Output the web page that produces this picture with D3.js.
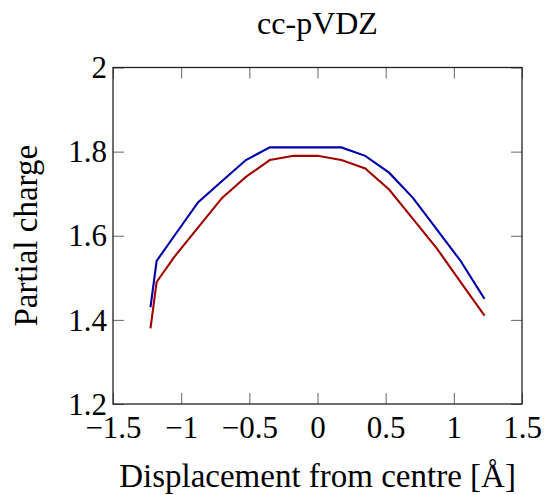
<!DOCTYPE html>
<html>
<head>
<meta charset="utf-8">
<script src="https://cdn.jsdelivr.net/npm/d3@7"></script>
<style>
  html, body { margin: 0; padding: 0; background: #fff; }
  svg { display: block; }
</style>
</head>
<body>
<svg id="chart" width="544" height="495"></svg>
<script>
// Displacement of the atom from the centre (Å)
const displacement = [-1.225, -1.18, -1.05, -0.875, -0.7, -0.525, -0.35, -0.175, 0,
                      0.175, 0.35, 0.525, 0.7, 0.875, 1.05, 1.225];
// Partial charge, two methods
const chargeBlue = [1.43, 1.54, 1.60, 1.68, 1.73, 1.78, 1.81, 1.81, 1.81,
                    1.81, 1.79, 1.75, 1.69, 1.615, 1.54, 1.45];
const chargeRed  = [1.38, 1.49, 1.55, 1.62, 1.69, 1.74, 1.78, 1.79, 1.79,
                    1.78, 1.76, 1.71, 1.64, 1.57, 1.49, 1.41];
const xTicks = [-1.5, -1, -0.5, 0, 0.5, 1, 1.5];
const yTicks = [1.2, 1.4, 1.6, 1.8, 2];

const serif = "'Liberation Serif', 'Times New Roman', serif";
const svg = d3.select("#chart");
const plotLeft = 113, plotRight = 522, plotTop = 67.5, plotBottom = 404;
const x = d3.scaleLinear().domain([-1.5, 1.5]).range([plotLeft, plotRight]);
const y = d3.scaleLinear().domain([1.2, 2]).range([plotBottom, plotTop]);
const fmt = d3.format("~g");
const tickLen = 11;

// inward ticks on all four sides
const gB = svg.append("g").attr("transform", `translate(0,${plotBottom})`)
  .call(d3.axisBottom(x).tickValues(xTicks).tickFormat(fmt).tickSizeInner(-tickLen).tickSizeOuter(0));
const gT = svg.append("g").attr("transform", `translate(0,${plotTop})`)
  .call(d3.axisTop(x).tickValues(xTicks).tickFormat("").tickSizeInner(-tickLen).tickSizeOuter(0));
const gL = svg.append("g").attr("transform", `translate(${plotLeft},0)`)
  .call(d3.axisLeft(y).tickValues(yTicks).tickFormat(fmt).tickSizeInner(-tickLen).tickSizeOuter(0));
const gR = svg.append("g").attr("transform", `translate(${plotRight},0)`)
  .call(d3.axisRight(y).tickValues(yTicks).tickFormat("").tickSizeInner(-tickLen).tickSizeOuter(0));

[gB, gT, gL, gR].forEach(g => {
  g.attr("font-family", null).attr("font-size", null);
  g.select(".domain").remove();
  g.selectAll(".tick line").attr("stroke", "#666").attr("stroke-width", 1);
});
gB.selectAll(".tick text")
  .attr("y", 33.5).attr("dy", null)
  .style("font-family", serif).style("font-size", "31px").attr("fill", "#000");
gL.selectAll(".tick text")
  .attr("x", -6).attr("dy", "0.33em")
  .style("font-family", serif).style("font-size", "31px").attr("fill", "#000");

// frame
svg.append("rect")
  .attr("x", plotLeft).attr("y", plotTop)
  .attr("width", plotRight - plotLeft).attr("height", plotBottom - plotTop)
  .attr("fill", "none").attr("stroke", "#222").attr("stroke-width", 1.3);

// curves
const line = d3.line().x(d => x(d[0])).y(d => y(d[1]));
const series = [
  { values: chargeBlue, color: "#0000a8" },
  { values: chargeRed, color: "#a00000" }
];
series.forEach(s => {
  svg.append("path")
    .datum(displacement.map((d, i) => [d, s.values[i]]))
    .attr("d", line)
    .attr("fill", "none")
    .attr("stroke", s.color)
    .attr("stroke-width", 2.1)
    .attr("stroke-linejoin", "miter");
});

// title and axis labels
function label(txt, size) {
  return svg.append("text")
    .attr("text-anchor", "middle")
    .style("font-family", serif).style("font-size", size + "px")
    .attr("fill", "#000")
    .text(txt);
}
label("cc-pVDZ", 32).attr("x", (plotLeft + plotRight) / 2).attr("y", 34);
label("Displacement from centre [Å]", 33).attr("x", (plotLeft + plotRight) / 2).attr("y", 487);
label("Partial charge", 33)
  .attr("transform", `translate(37,${(plotTop + plotBottom) / 2}) rotate(-90)`);
</script>
</body>
</html>
